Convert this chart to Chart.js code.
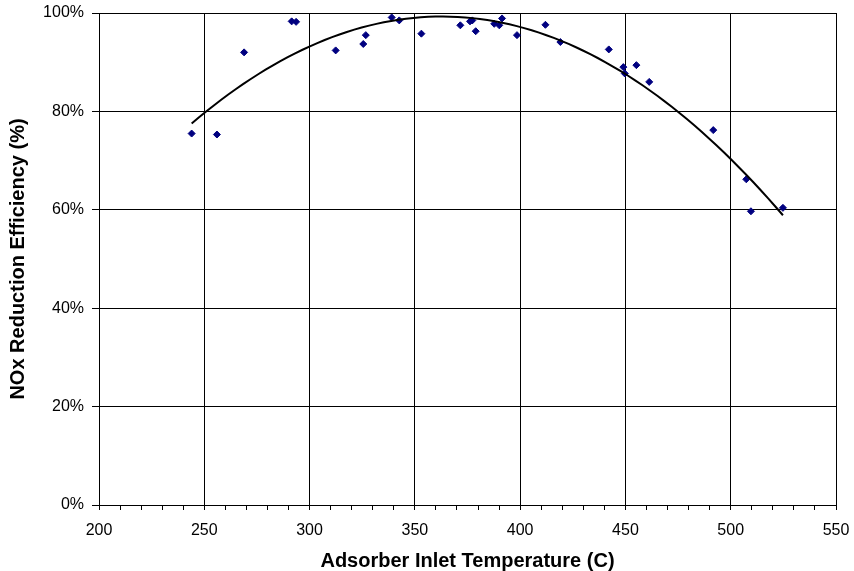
<!DOCTYPE html>
<html>
<head>
<meta charset="utf-8">
<script src="https://cdn.jsdelivr.net/npm/chart.js@4/dist/chart.umd.min.js"></script>
<style>
  html, body { margin: 0; padding: 0; background: #fff; }
  #wrap { width: 854px; height: 571px; }
</style>
</head>
<body>
<div id="wrap"><canvas id="c" width="854" height="571"></canvas></div>
<script>
// Measured adsorber inlet temperatures (C)
const temperatures = [
  244.0, 256.0, 268.9, 291.5, 293.6, 312.4, 325.5, 326.7, 339.0, 342.6,
  353.1, 371.6, 376.2, 377.3, 378.9, 387.7, 390.1, 391.4, 398.5, 412.0,
  419.1, 442.1, 449.0, 449.7, 455.2, 461.3, 491.7, 507.4, 509.6, 524.8
];
// NOx reduction efficiency (%) at each temperature
const efficiencies = [
  75.5, 75.3, 92.0, 98.3, 98.2, 92.4, 93.7, 95.5, 99.1, 98.5,
  95.8, 97.5, 98.3, 98.5, 96.3, 97.8, 97.5, 98.9, 95.5, 97.6,
  94.1, 92.6, 89.0, 87.7, 89.4, 86.0, 76.2, 66.2, 59.7, 60.4
];
const xTickValues = [200, 250, 300, 350, 400, 450, 500, 550];
const yTickValues = [0, 20, 40, 60, 80, 100];

// Second-order least-squares trend through the measurements
function quadraticFit(xs, ys) {
  const n = xs.length;
  const xm = xs.reduce((a, b) => a + b, 0) / n;
  const s = [0, 0, 0, 0, 0], t = [0, 0, 0];
  for (let i = 0; i < n; i++) {
    const u = xs[i] - xm;
    let p = 1;
    for (let k = 0; k < 5; k++) { s[k] += p; if (k < 3) t[k] += p * ys[i]; p *= u; }
  }
  const M = [[s[0], s[1], s[2], t[0]], [s[1], s[2], s[3], t[1]], [s[2], s[3], s[4], t[2]]];
  for (let i = 0; i < 3; i++) {
    for (let j = i + 1; j < 3; j++) {
      const f = M[j][i] / M[i][i];
      for (let k = i; k < 4; k++) M[j][k] -= f * M[i][k];
    }
  }
  const c = [0, 0, 0];
  for (let i = 2; i >= 0; i--) {
    let v = M[i][3];
    for (let k = i + 1; k < 3; k++) v -= M[i][k] * c[k];
    c[i] = v / M[i][i];
  }
  return x => c[0] + c[1] * (x - xm) + c[2] * (x - xm) * (x - xm);
}

const trend = quadraticFit(temperatures, efficiencies);
const xMin = Math.min(...temperatures), xMax = Math.max(...temperatures);
const trendPoints = [];
for (let i = 0; i <= 80; i++) {
  const x = xMin + (xMax - xMin) * i / 80;
  trendPoints.push({ x: x, y: trend(x) });
}
const measured = temperatures.map((t, i) => ({ x: t, y: efficiencies[i] }));

const FONT = "'Liberation Sans', Arial, sans-serif";

new Chart(document.getElementById('c'), {
  type: 'scatter',
  data: {
    datasets: [
      {
        label: 'Trend',
        type: 'line',
        data: trendPoints,
        borderColor: '#000',
        borderWidth: 2,
        pointRadius: 0,
        fill: false,
        tension: 0
      },
      {
        label: 'NOx Reduction Efficiency',
        data: measured,
        pointStyle: 'rectRot',
        pointRadius: 3.5,
        pointBackgroundColor: '#000080',
        pointBorderColor: '#000080',
        pointBorderWidth: 1
      }
    ]
  },
  options: {
    responsive: false,
    animation: false,
    layout: { padding: { top: 13, right: 18, left: 0, bottom: 0 } },
    plugins: { legend: { display: false }, tooltip: { enabled: false } },
    scales: {
      x: {
        type: 'linear',
        min: 200,
        max: 550,
        afterBuildTicks: axis => {
          const ticks = [];
          for (let v = 200; v <= 550; v += 10) ticks.push({ value: v });
          axis.ticks = ticks;
        },
        afterFit: axis => { axis.height = 66; },
        grid: {
          color: ctx => (xTickValues.includes(ctx.tick && ctx.tick.value) ? '#000' : 'rgba(0,0,0,0)'),
          tickColor: '#000',
          tickLength: 5,
          lineWidth: 1
        },
        border: { color: '#000', width: 1 },
        ticks: {
          autoSkip: false,
          maxRotation: 0,
          padding: 2,
          color: '#000',
          font: { family: FONT, size: 16, lineHeight: 2.3 },
          callback: v => (xTickValues.includes(v) ? String(v) : '')
        },
        title: {
          display: true,
          text: 'Adsorber Inlet Temperature (C)',
          color: '#000',
          font: { family: FONT, size: 20, weight: 'bold', lineHeight: 1 },
          padding: { top: 0, bottom: 0 }
        }
      },
      y: {
        type: 'linear',
        min: 0,
        max: 100,
        afterBuildTicks: axis => { axis.ticks = yTickValues.map(v => ({ value: v })); },
        afterFit: axis => { axis.width = 99; },
        grid: { color: '#000', tickColor: '#000', tickLength: 7, lineWidth: 1 },
        border: { color: '#000', width: 1 },
        ticks: {
          padding: 8,
          color: '#000',
          font: { family: FONT, size: 16, lineHeight: 0.6 },
          callback: v => v + '%'
        },
        title: {
          display: true,
          text: 'NOx Reduction Efficiency (%)',
          color: '#000',
          font: { family: FONT, size: 20, weight: 'bold', lineHeight: 1 },
          padding: { top: 8, bottom: 0 }
        }
      }
    }
  }
});
</script>
</body>
</html>
